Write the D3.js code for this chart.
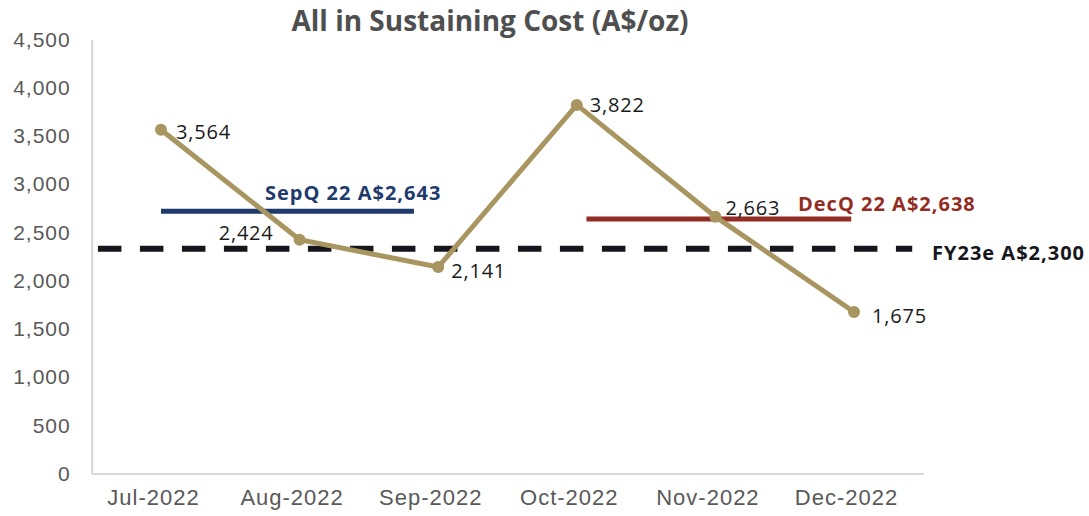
<!DOCTYPE html>
<html>
<head>
<meta charset="utf-8">
<script src="https://cdn.jsdelivr.net/npm/d3@7"></script>
<style>
  body { margin: 0; background: #fff; }
  svg { display: block; font-family: "Open Sans", sans-serif; }
</style>
</head>
<body>
<div id="chart"></div>
<script>
var months = ['Jul-2022', 'Aug-2022', 'Sep-2022', 'Oct-2022', 'Nov-2022', 'Dec-2022'];
var aisc = [3564, 2424, 2141, 3822, 2663, 1675];
var yTicks = [0, 500, 1000, 1500, 2000, 2500, 3000, 3500, 4000, 4500];

// reference lines: label, level as drawn, span in month index units
var refNames = ['SepQ 22 A$2,643', 'DecQ 22 A$2,638', 'FY23e A$2,300'];
var refLevels = [2720, 2638, 2330];
var refFrom = [0, 3.07, -0.455];
var refTo = [1.825, 4.98, 5.42];

var width = 1089, height = 516;
var plotLeft = 91.7, plotRight = 923.3, plotTop = 39.5, plotBottom = 473.5;

var svg = d3.select('#chart').append('svg')
  .attr('width', width)
  .attr('height', height);

var x = d3.scaleLinear().domain([-0.5, 5.5]).range([plotLeft, plotRight]);
var y = d3.scaleLinear().domain([0, 4500]).range([plotBottom, plotTop]);

svg.append('text')
  .attr('x', 490)
  .attr('y', 31)
  .attr('text-anchor', 'middle')
  .style('font-size', '28px')
  .style('font-weight', 700)
  .style('fill', '#4f4f4f')
  .text('All in Sustaining Cost (A$/oz)');

var yAxis = svg.append('g')
  .attr('transform', 'translate(' + plotLeft + ',0)')
  .call(d3.axisLeft(y).tickValues(yTicks).tickFormat(d3.format(',')).tickSize(0).tickPadding(21));
yAxis.selectAll('text').style('font-size', '21px').style('letter-spacing', '1px').style('fill', '#595959');

var xAxis = svg.append('g')
  .attr('transform', 'translate(0,' + plotBottom + ')')
  .call(d3.axisBottom(x).tickValues(d3.range(months.length))
    .tickFormat(function(i) { return months[i]; }).tickSize(0).tickPadding(16));
xAxis.selectAll('text').style('font-size', '22px').style('letter-spacing', '1px')
  .style('fill', '#595959').attr('dx', -8);

svg.selectAll('.domain')
  .attr('stroke', '#d9d9d9')
  .attr('stroke-width', 2);

// reference lines
var refColors = ['#1f3a6c', '#932d24', '#16161d'];
var refs = refNames.map(function(n, i) {
  return {name: n, level: refLevels[i], from: refFrom[i], to: refTo[i], color: refColors[i]};
});

svg.selectAll('line.ref')
  .data(refs)
  .enter()
  .append('line')
    .attr('class', 'ref')
    .attr('x1', function(d) { return x(d.from); })
    .attr('x2', function(d) { return x(d.to); })
    .attr('y1', function(d) { return y(d.level); })
    .attr('y2', function(d) { return y(d.level); })
    .attr('stroke', function(d) { return d.color; })
    .attr('stroke-width', function(d, i) { return i == 2 ? 6 : 5; })
    .attr('stroke-dasharray', function(d, i) { return i == 2 ? '23.5,18.5' : null; });

// label spots for the reference lines
var refLabelPos = [[265, 200], [798, 211], [932, 260]];
svg.selectAll('text.ref')
  .data(refs)
  .enter()
  .append('text')
    .attr('class', 'ref')
    .attr('x', function(d, i) { return refLabelPos[i][0]; })
    .attr('y', function(d, i) { return refLabelPos[i][1]; })
    .style('font-size', '20px')
    .style('font-weight', 700)
    .style('letter-spacing', '1px')
    .style('fill', function(d) { return d.color; })
    .text(function(d) { return d.name; });

// the series
var line = d3.line()
  .x(function(d, i) { return x(i); })
  .y(function(d) { return y(d); });

svg.append('path')
  .datum(aisc)
  .attr('d', line)
  .attr('fill', 'none')
  .attr('stroke', '#a8955f')
  .attr('stroke-width', 5);

svg.selectAll('circle')
  .data(aisc)
  .enter()
  .append('circle')
    .attr('cx', function(d, i) { return x(i); })
    .attr('cy', function(d) { return y(d); })
    .attr('r', 6)
    .attr('fill', '#a8955f');

var labelOff = [['start', 15, 2], ['end', -26, -7], ['start', 13, 4],
                ['start', 13, 0], ['start', 10, -9], ['start', 18, 4]];
svg.selectAll('text.val')
  .data(aisc)
  .enter()
  .append('text')
    .attr('class', 'val')
    .attr('x', function(d, i) { return x(i) + labelOff[i][1]; })
    .attr('y', function(d, i) { return y(d) + labelOff[i][2]; })
    .attr('dy', '0.35em')
    .attr('text-anchor', function(d, i) { return labelOff[i][0]; })
    .style('font-size', '20px')
    .style('letter-spacing', '0.8px')
    .style('fill', '#1a1a1a')
    .text(d3.format(','));
</script>
</body>
</html>
